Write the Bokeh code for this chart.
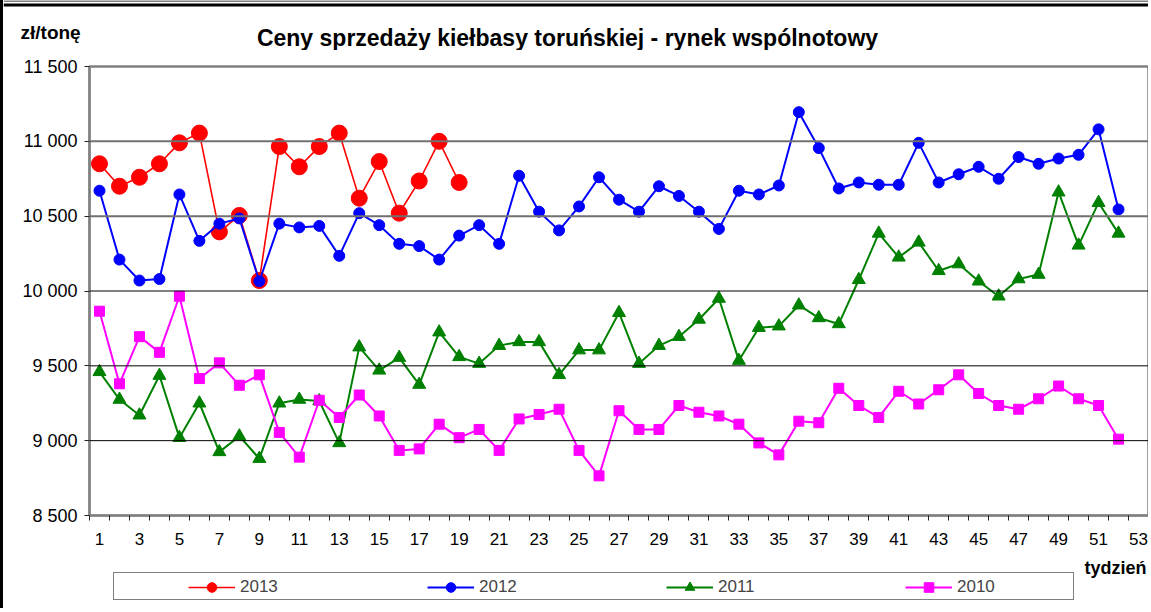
from bokeh.plotting import figure
from bokeh.models import (Range1d, FixedTicker, Span, Label, Legend, LegendItem)
from bokeh.embed import file_html
from bokeh.resources import INLINE

weeks_2013 = list(range(1, 20))
weeks_all = list(range(1, 53))

y2013 = [10850, 10700, 10760, 10850, 10990, 11055, 10395, 10505, 10070, 10965,
         10830, 10965, 11055, 10620, 10865, 10520, 10735, 11000, 10725]
y2012 = [10670, 10210, 10070, 10080, 10645, 10335, 10450, 10485, 10065, 10450,
         10425, 10435, 10235, 10520, 10440, 10315, 10300, 10210, 10370, 10440,
         10315, 10770, 10530, 10405, 10565, 10760, 10610, 10530, 10700, 10635,
         10530, 10415, 10670, 10645, 10705, 11195, 10955, 10685, 10725, 10710,
         10710, 10990, 10725, 10780, 10830, 10750, 10895, 10850, 10885, 10910,
         11080, 10545]
y2011 = [9460, 9275, 9170, 9435, 9020, 9250, 8925, 9030, 8880, 9250,
         9275, 9265, 8985, 9625, 9470, 9555, 9375, 9725, 9560, 9515,
         9635, 9660, 9660, 9440, 9605, 9605, 9855, 9515, 9635, 9695,
         9810, 9950, 9535, 9755, 9765, 9905, 9820, 9780, 10075, 10385,
         10225, 10325, 10135, 10180, 10065, 9965, 10080, 10110, 10660, 10305,
         10590, 10385]
y2010 = [9865, 9380, 9695, 9590, 9965, 9415, 9520, 9370, 9440, 9055,
         8890, 9270, 9155, 9305, 9165, 8935, 8945, 9110, 9020, 9075,
         8935, 9145, 9175, 9210, 8935, 8765, 9200, 9075, 9075, 9235,
         9190, 9165, 9110, 8985, 8905, 9130, 9120, 9350, 9235, 9155,
         9330, 9245, 9340, 9440, 9315, 9235, 9210, 9280, 9365, 9280,
         9235, 9010]

y_ticks = [8500, 9000, 9500, 10000, 10500, 11000, 11500]
y_tick_labels = ["8 500", "9 000", "9 500", "10 000", "10 500", "11 000", "11 500"]
x_tick_labels = [str(k) for k in range(1, 54, 2)]

title_text = "Ceny sprzedaży kiełbasy toruńskiej - rynek wspólnotowy"
y_unit = "zł/tonę"
x_unit = "tydzień"
series_names = ["2013", "2012", "2011", "2010"]

FONT = "Liberation Sans"
W = 1148
H_HEAD, H_MAIN, H_FOOT = 50, 506, 52
BORDER = {"border-left": "3px solid black"}


def blank(h):
    f = figure(width=W, height=h, output_backend="svg", toolbar_location=None,
               title=None, x_range=Range1d(0, W), y_range=Range1d(0, h),
               x_axis_location=None, y_axis_location=None,
               min_border_left=0, min_border_right=0, min_border_top=0,
               min_border_bottom=0, styles=BORDER)
    f.outline_line_color = None
    f.xgrid.visible = False
    f.ygrid.visible = False
    f.background_fill_color = "white"
    f.border_fill_color = "white"
    return f


# ---------- header ----------
head = blank(H_HEAD)
head.add_layout(Span(location=H_HEAD - 0.5, dimension="width", line_color="black", line_width=1))
head.add_layout(Span(location=H_HEAD - 4.5, dimension="width", line_color="black", line_width=3))
head.add_layout(Label(x=17, y=H_HEAD - 32, text=y_unit, text_font=FONT,
                      text_font_style="bold", text_font_size="19px",
                      text_baseline="middle", text_align="left", text_color="black"))
head.add_layout(Label(x=564, y=H_HEAD - 37, text=title_text, text_font=FONT,
                      text_font_style="bold", text_font_size="23px",
                      text_baseline="middle", text_align="center", text_color="black"))

# ---------- main chart ----------
p = figure(width=W, height=H_MAIN, output_backend="svg", toolbar_location=None,
           title=None, x_range=Range1d(0.5, 53.5), y_range=Range1d(8500, 11500),
           min_border_left=86, min_border_right=3, min_border_top=16,
           min_border_bottom=41, styles=BORDER)
p.background_fill_color = "white"
p.border_fill_color = "white"
p.outline_line_color = "#808080"
p.outline_line_width = 2.5
p.xgrid.visible = False
p.ygrid.visible = False

xa = p.xaxis[0]
xa.ticker = FixedTicker(ticks=list(range(1, 54, 2)),
                        minor_ticks=[k + 0.5 for k in range(0, 54)])
xa.major_label_overrides = {k: lab for k, lab in zip(range(1, 54, 2), x_tick_labels)}
xa.major_tick_out = 0
xa.major_tick_in = 0
xa.minor_tick_out = 5
xa.minor_tick_in = 0
xa.minor_tick_line_color = "#222222"
xa.axis_line_color = "#808080"
xa.axis_line_width = 2
xa.major_label_text_font = FONT
xa.major_label_text_font_size = "17px"
xa.major_label_text_color = "black"
xa.major_label_standoff = 12

ya = p.yaxis[0]
ya.ticker = FixedTicker(ticks=y_ticks)
ya.major_label_overrides = {t: lab for t, lab in zip(y_ticks, y_tick_labels)}
ya.major_tick_out = 5
ya.major_tick_in = 0
ya.major_tick_line_color = "#222222"
ya.minor_tick_out = 0
ya.minor_tick_in = 0
ya.axis_line_color = "#808080"
ya.axis_line_width = 2
ya.major_label_text_font = FONT
ya.major_label_text_font_size = "18px"
ya.major_label_text_color = "black"
ya.major_label_standoff = 7

for t in y_ticks[1:-1]:
    if t >= 10500:
        p.add_layout(Span(location=t, dimension="width", line_color="#707070", line_width=2))
    else:
        p.add_layout(Span(location=t, dimension="width", line_color="#000000", line_width=1))

STY = {
    "2013": dict(color="#FF0000", marker="circle", size=16, lw=1.6),
    "2012": dict(color="#0000FF", marker="circle", size=11, lw=2),
    "2011": dict(color="#008000", marker="triangle", size=13, lw=2),
    "2010": dict(color="#FF00FF", marker="square", size=10, lw=2),
}
series = [(series_names[0], weeks_2013, y2013), (series_names[1], weeks_all, y2012),
          (series_names[2], weeks_all, y2011), (series_names[3], weeks_all, y2010)]

for name, xs, ys in series:
    s = STY[name]
    p.line(xs, ys, line_color=s["color"], line_width=s["lw"])
    p.scatter(xs, ys, marker=s["marker"], size=s["size"], fill_color=s["color"],
              line_color=s["color"])

# ---------- footer (legend + x unit) ----------
foot = blank(H_FOOT)
foot.add_layout(Label(x=1143, y=H_FOOT - 11, text=x_unit, text_font=FONT,
                      text_font_style="bold", text_font_size="18px",
                      text_baseline="middle", text_align="right", text_color="black"))

dummy = foot.scatter(x=[], y=[], alpha=0)
box = Legend(items=[LegendItem(label=" ", renderers=[dummy])], location=(110, H_FOOT - 44),
             padding=1, margin=0, spacing=0, glyph_width=1, glyph_height=24,
             label_height=24, label_width=956, label_standoff=0,
             border_line_color="black", border_line_width=1,
             background_fill_color="white", background_fill_alpha=1)
foot.add_layout(box)

items = []
for name, xs, ys in series:
    s = STY[name]
    # legend proxies: same data, far outside this strip's visible range
    rl = foot.line(xs, ys, line_color=s["color"], line_width=s["lw"])
    rs = foot.scatter(xs, ys, marker=s["marker"], size=s["size"],
                      fill_color=s["color"], line_color=s["color"])
    items.append(LegendItem(label=name, renderers=[rl, rs]))

leg = Legend(items=items, location=(185, H_FOOT - 43), orientation="horizontal",
             padding=0, margin=0, spacing=145, glyph_width=47, glyph_height=24,
             label_height=24, label_width=42, label_standoff=5,
             label_text_font=FONT, label_text_font_size="17px",
             border_line_alpha=0, background_fill_alpha=0)
foot.add_layout(leg)

open("out.html", "w").write(file_html([head, p, foot], INLINE))
